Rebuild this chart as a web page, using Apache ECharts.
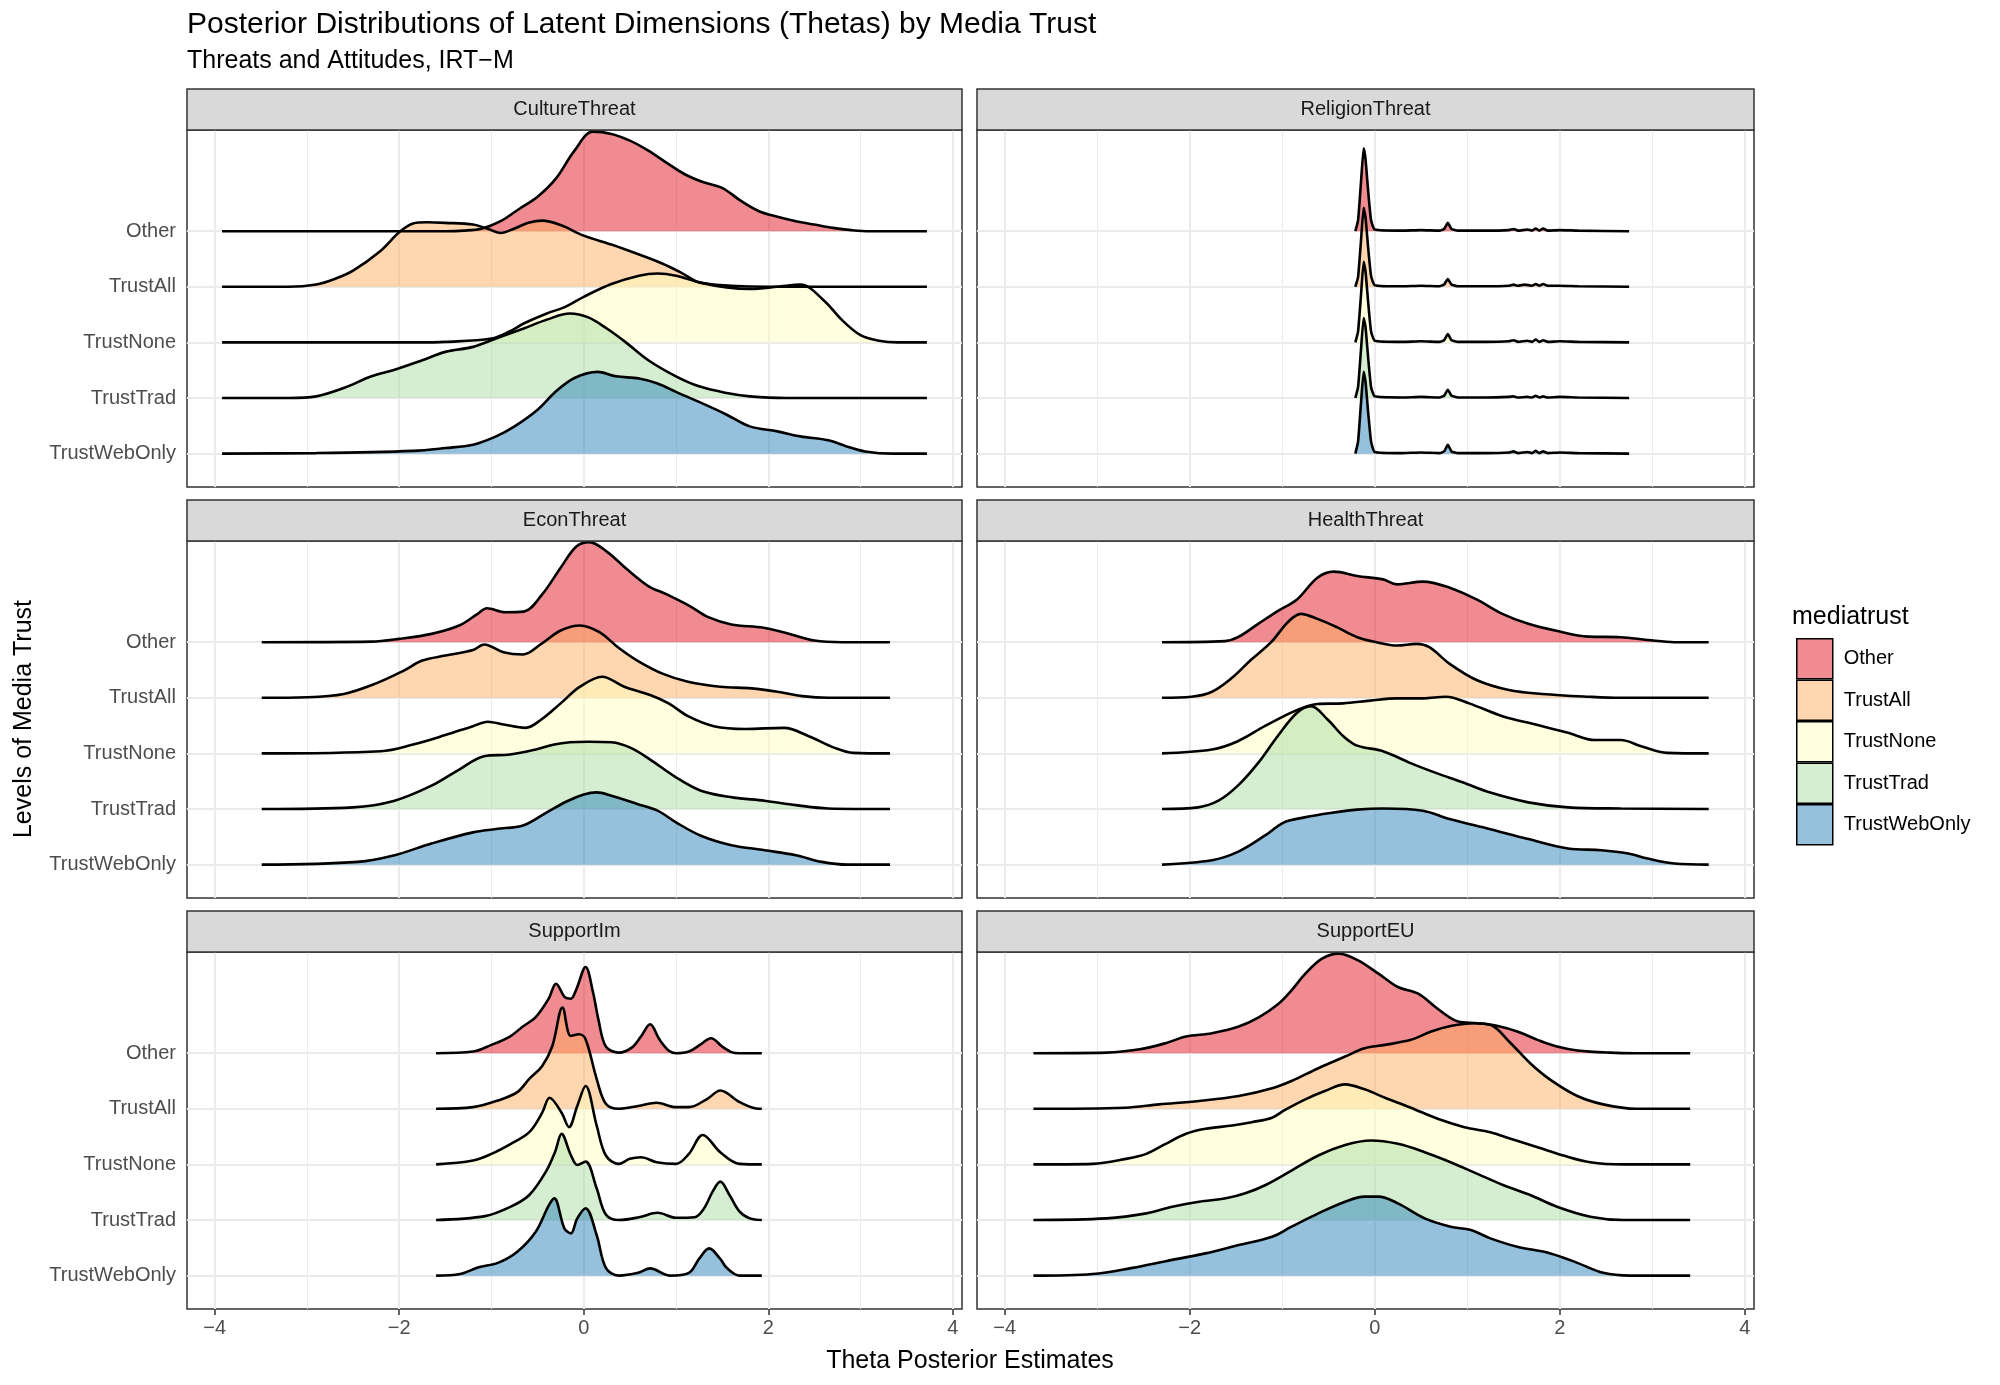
<!DOCTYPE html>
<html><head><meta charset="utf-8">
<script src="https://cdn.jsdelivr.net/npm/echarts@6/dist/echarts.min.js"></script>
<style>html,body{margin:0;padding:0;background:#fff}#chart{width:2000px;height:1385px}</style>
</head><body><div id="chart"></div>
<script>
// ---------- DATA ----------
const groups = ['Other', 'TrustAll', 'TrustNone', 'TrustTrad', 'TrustWebOnly'];
const facetNames = ['CultureThreat', 'ReligionThreat', 'EconThreat', 'HealthThreat', 'SupportIm', 'SupportEU'];
const xTicks = [-4, -2, 0, 2, 4];
const xMinorTicks = [-3, -1, 1, 3];
const yTickValues = [1, 2, 3, 4, 5];

// each ridge: [theta, ridge height in row units], groups in order Other..TrustWebOnly
const cultureThreat = [
  [[-3.92,0],[-1.5,0],[-1.3,0.01],[-1.1,0.05],[-0.9,0.18],[-0.7,0.40],[-0.5,0.62],[-0.3,0.95],[-0.1,1.45],[0.1,1.79],[0.3,1.75],[0.5,1.63],[0.7,1.45],[0.9,1.23],[1.1,1.02],[1.3,0.88],[1.5,0.78],[1.7,0.55],[1.9,0.36],[2.1,0.26],[2.3,0.18],[2.5,0.12],[2.7,0.06],[2.9,0.02],[3.1,0],[3.72,0]],
  [[-3.92,0],[-3.2,0],[-2.9,0.04],[-2.7,0.14],[-2.5,0.29],[-2.2,0.65],[-2.0,0.98],[-1.85,1.14],[-1.7,1.16],[-1.5,1.15],[-1.2,1.12],[-1.05,1.05],[-0.9,0.97],[-0.75,1.05],[-0.6,1.15],[-0.45,1.19],[-0.25,1.11],[0.0,0.92],[0.3,0.76],[0.6,0.58],[0.85,0.42],[1.05,0.26],[1.25,0.08],[1.6,0.02],[2.0,0],[3.72,0]],
  [[-3.92,0],[-1.8,0],[-1.5,0.01],[-1.0,0.07],[-0.8,0.2],[-0.65,0.34],[-0.4,0.52],[-0.2,0.64],[0.0,0.82],[0.3,1.05],[0.6,1.20],[0.8,1.24],[1.0,1.20],[1.25,1.08],[1.55,0.99],[1.8,0.96],[2.1,1.00],[2.35,1.04],[2.6,0.76],[2.8,0.40],[3.0,0.13],[3.2,0.03],[3.4,0],[3.72,0]],
  [[-3.92,0],[-3.2,0],[-2.9,0.03],[-2.6,0.18],[-2.3,0.39],[-2.05,0.51],[-1.75,0.68],[-1.5,0.83],[-1.2,0.92],[-0.95,1.07],[-0.65,1.25],[-0.4,1.41],[-0.15,1.52],[0.05,1.45],[0.25,1.25],[0.45,1.01],[0.7,0.68],[1.0,0.39],[1.25,0.21],[1.55,0.09],[1.8,0.03],[2.2,0],[3.72,0]],
  [[-3.92,0],[-2.9,0.01],[-1.85,0.05],[-1.5,0.10],[-1.2,0.16],[-0.95,0.31],[-0.75,0.49],[-0.5,0.79],[-0.3,1.12],[-0.1,1.36],[0.15,1.47],[0.35,1.39],[0.6,1.35],[0.8,1.26],[1.0,1.11],[1.25,0.93],[1.55,0.70],[1.8,0.49],[2.1,0.40],[2.35,0.31],[2.65,0.24],[2.85,0.13],[3.05,0.04],[3.35,0],[3.72,0]]
];
const religionThreat = [
  [[-0.21,0],[-0.18,0.2],[-0.15,0.85],[-0.12,1.49],[-0.1,1.3],[-0.07,0.7],[-0.04,0.2],[0.0,0.03],[0.3,0.01],[0.5,0.02],[0.7,0.01],[0.75,0.04],[0.79,0.15],[0.83,0.04],[0.9,0.01],[1.2,0.01],[1.45,0.02],[1.5,0.04],[1.55,0.01],[1.65,0.03],[1.7,0.01],[1.74,0.05],[1.78,0.01],[1.82,0.05],[1.87,0.01],[2.0,0.02],[2.2,0.01],[2.75,0]],
  [[-0.21,0],[-0.18,0.18],[-0.15,0.8],[-0.12,1.42],[-0.1,1.25],[-0.07,0.68],[-0.04,0.2],[0.0,0.03],[0.3,0.01],[0.5,0.02],[0.7,0.01],[0.75,0.04],[0.79,0.14],[0.83,0.04],[0.9,0.01],[1.2,0.01],[1.45,0.02],[1.5,0.04],[1.55,0.02],[1.62,0.04],[1.7,0.02],[1.74,0.05],[1.78,0.02],[1.82,0.05],[1.87,0.02],[2.0,0.02],[2.2,0.01],[2.75,0]],
  [[-0.21,0],[-0.18,0.2],[-0.15,0.82],[-0.12,1.45],[-0.1,1.28],[-0.07,0.7],[-0.04,0.2],[0.0,0.03],[0.3,0.01],[0.5,0.02],[0.7,0.01],[0.75,0.04],[0.79,0.15],[0.83,0.04],[0.9,0.01],[1.2,0.01],[1.45,0.02],[1.5,0.04],[1.55,0.01],[1.65,0.03],[1.7,0.01],[1.74,0.05],[1.78,0.01],[1.82,0.04],[1.87,0.01],[2.0,0.02],[2.2,0.01],[2.75,0]],
  [[-0.21,0],[-0.18,0.2],[-0.15,0.84],[-0.12,1.44],[-0.1,1.28],[-0.07,0.7],[-0.04,0.2],[0.0,0.03],[0.3,0.01],[0.5,0.02],[0.7,0.01],[0.75,0.04],[0.79,0.15],[0.83,0.04],[0.9,0.01],[1.2,0.01],[1.45,0.02],[1.5,0.03],[1.55,0.01],[1.65,0.02],[1.7,0.01],[1.74,0.04],[1.78,0.01],[1.82,0.03],[1.87,0.01],[2.0,0.02],[2.2,0.01],[2.75,0]],
  [[-0.21,0],[-0.18,0.22],[-0.15,0.88],[-0.12,1.47],[-0.1,1.3],[-0.07,0.72],[-0.04,0.22],[0.0,0.03],[0.3,0.01],[0.5,0.02],[0.7,0.01],[0.75,0.04],[0.79,0.16],[0.83,0.04],[0.9,0.01],[1.2,0.01],[1.45,0.02],[1.5,0.04],[1.55,0.01],[1.65,0.03],[1.7,0.01],[1.74,0.05],[1.78,0.01],[1.82,0.04],[1.87,0.01],[2.0,0.02],[2.2,0.01],[2.75,0]]
];
const econThreat = [
  [[-3.49,0],[-2.3,0.01],[-2.0,0.06],[-1.65,0.15],[-1.35,0.30],[-1.15,0.51],[-1.05,0.61],[-0.85,0.54],[-0.65,0.55],[-0.45,0.86],[-0.25,1.34],[-0.08,1.72],[0.06,1.80],[0.25,1.63],[0.45,1.34],[0.7,1.01],[0.9,0.86],[1.15,0.65],[1.35,0.45],[1.6,0.32],[1.95,0.26],[2.25,0.14],[2.5,0.03],[2.8,0],[3.32,0]],
  [[-3.49,0],[-3.0,0.01],[-2.6,0.07],[-2.25,0.26],[-1.95,0.49],[-1.75,0.67],[-1.5,0.76],[-1.2,0.86],[-1.08,0.96],[-0.87,0.82],[-0.66,0.78],[-0.46,0.97],[-0.25,1.21],[-0.04,1.30],[0.17,1.18],[0.37,0.91],[0.58,0.67],[0.86,0.43],[1.13,0.29],[1.48,0.20],[1.82,0.17],[2.1,0.11],[2.37,0.03],[2.65,0],[3.32,0]],
  [[-3.49,0],[-2.2,0.04],[-1.85,0.16],[-1.5,0.33],[-1.2,0.49],[-1.04,0.57],[-0.87,0.52],[-0.63,0.46],[-0.46,0.61],[-0.25,0.90],[-0.04,1.20],[0.2,1.38],[0.44,1.20],[0.72,1.05],[0.92,0.90],[1.13,0.67],[1.41,0.49],[1.75,0.44],[2.17,0.46],[2.44,0.31],[2.72,0.10],[2.92,0.01],[3.32,0]],
  [[-3.49,0],[-2.5,0.03],[-2.05,0.15],[-1.65,0.42],[-1.35,0.71],[-1.08,0.95],[-0.8,0.98],[-0.52,1.07],[-0.32,1.16],[-0.15,1.20],[0.05,1.21],[0.3,1.20],[0.51,1.10],[0.72,0.89],[1.0,0.57],[1.27,0.33],[1.61,0.21],[1.96,0.15],[2.3,0.07],[2.65,0.01],[3.32,0]],
  [[-3.49,0],[-2.45,0.05],[-2.05,0.17],[-1.65,0.38],[-1.2,0.58],[-0.95,0.64],[-0.65,0.71],[-0.4,0.94],[-0.18,1.14],[0.0,1.26],[0.14,1.30],[0.3,1.24],[0.58,1.09],[0.8,0.97],[1.0,0.76],[1.27,0.52],[1.6,0.35],[1.96,0.26],[2.3,0.17],[2.58,0.05],[2.86,0],[3.32,0]]
];
const healthThreat = [
  [[-2.3,0],[-1.62,0.02],[-1.48,0.09],[-1.26,0.33],[-1.05,0.56],[-0.84,0.77],[-0.62,1.16],[-0.44,1.27],[-0.19,1.19],[0.09,1.13],[0.24,1.04],[0.52,1.09],[0.81,0.98],[1.1,0.77],[1.38,0.51],[1.66,0.33],[1.95,0.21],[2.31,0.10],[2.66,0.09],[2.95,0.04],[3.24,0],[3.61,0]],
  [[-2.3,0],[-1.98,0.02],[-1.76,0.11],[-1.55,0.35],[-1.34,0.68],[-1.12,1.0],[-0.94,1.36],[-0.8,1.51],[-0.62,1.42],[-0.41,1.27],[-0.19,1.09],[0.02,1.0],[0.24,0.94],[0.45,0.97],[0.59,0.91],[0.81,0.61],[1.1,0.32],[1.45,0.14],[1.81,0.07],[2.31,0.02],[2.66,0],[3.61,0]],
  [[-2.3,0],[-1.76,0.07],[-1.48,0.22],[-1.19,0.49],[-0.91,0.73],[-0.73,0.85],[-0.62,0.89],[-0.34,0.90],[-0.05,0.95],[0.24,0.99],[0.52,0.99],[0.77,1.02],[1.02,0.90],[1.38,0.67],[1.74,0.52],[2.09,0.37],[2.38,0.24],[2.66,0.24],[2.88,0.13],[3.16,0.01],[3.61,0]],
  [[-2.3,0],[-1.91,0.03],[-1.69,0.15],[-1.48,0.42],[-1.26,0.83],[-1.05,1.31],[-0.84,1.73],[-0.69,1.85],[-0.51,1.61],[-0.34,1.31],[-0.19,1.14],[0.09,1.04],[0.38,0.83],[0.66,0.65],[0.95,0.48],[1.24,0.30],[1.66,0.12],[2.09,0.03],[2.66,0.01],[3.61,0]],
  [[-2.3,0],[-1.76,0.08],[-1.48,0.23],[-1.19,0.52],[-0.98,0.76],[-0.76,0.85],[-0.48,0.93],[-0.19,0.99],[0.09,1.01],[0.52,0.97],[0.81,0.82],[1.24,0.64],[1.66,0.46],[2.09,0.29],[2.45,0.26],[2.74,0.20],[2.95,0.11],[3.24,0.02],[3.61,0]]
];
const supportIm = [
  [[-1.6,0],[-1.2,0.03],[-1.0,0.15],[-0.8,0.30],[-0.66,0.48],[-0.52,0.65],[-0.38,0.98],[-0.3,1.25],[-0.2,1.0],[-0.14,0.98],[-0.08,1.15],[0.02,1.55],[0.1,1.1],[0.16,0.6],[0.24,0.12],[0.38,0.01],[0.52,0.1],[0.62,0.3],[0.72,0.52],[0.82,0.25],[0.92,0.05],[1.0,0],[1.14,0.03],[1.26,0.15],[1.38,0.27],[1.5,0.12],[1.6,0.02],[1.69,0],[1.93,0]],
  [[-1.6,0],[-1.2,0.03],[-0.93,0.15],[-0.72,0.30],[-0.59,0.54],[-0.45,0.77],[-0.34,1.13],[-0.23,1.82],[-0.14,1.31],[-0.05,1.34],[0.02,1.25],[0.14,0.54],[0.24,0.09],[0.38,0],[0.59,0.05],[0.79,0.11],[1.0,0.03],[1.14,0.03],[1.34,0.18],[1.48,0.33],[1.69,0.12],[1.9,0],[1.93,0]],
  [[-1.6,0],[-1.2,0.07],[-1.0,0.19],[-0.79,0.37],[-0.59,0.58],[-0.45,0.93],[-0.37,1.20],[-0.24,0.93],[-0.16,0.67],[-0.07,1.05],[0.02,1.41],[0.14,0.70],[0.24,0.16],[0.38,0.01],[0.5,0.1],[0.62,0.13],[0.79,0.04],[1.0,0.01],[1.14,0.19],[1.29,0.53],[1.48,0.22],[1.69,0.01],[1.93,0]],
  [[-1.6,0],[-1.07,0.07],[-0.79,0.24],[-0.59,0.45],[-0.41,0.87],[-0.31,1.23],[-0.24,1.55],[-0.14,1.17],[-0.07,0.99],[0.02,1.05],[0.14,0.57],[0.24,0.10],[0.38,0],[0.6,0.05],[0.8,0.13],[1.0,0.04],[1.2,0.05],[1.3,0.2],[1.4,0.52],[1.48,0.69],[1.58,0.45],[1.69,0.15],[1.8,0.03],[1.93,0]],
  [[-1.6,0],[-1.34,0.03],[-1.14,0.15],[-0.93,0.23],[-0.72,0.43],[-0.52,0.79],[-0.38,1.26],[-0.32,1.39],[-0.21,0.85],[-0.14,0.76],[-0.07,1.03],[0.02,1.21],[0.14,0.73],[0.24,0.14],[0.38,0],[0.59,0.05],[0.72,0.13],[0.93,0],[1.14,0.05],[1.25,0.3],[1.36,0.49],[1.48,0.3],[1.55,0.14],[1.69,0],[1.93,0]]
];
const supportEU = [
  [[-3.69,0],[-2.9,0.01],[-2.54,0.07],[-2.26,0.18],[-2.04,0.30],[-1.76,0.36],[-1.47,0.48],[-1.25,0.65],[-1.04,0.89],[-0.9,1.13],[-0.75,1.43],[-0.57,1.70],[-0.39,1.79],[-0.18,1.67],[0.04,1.43],[0.25,1.19],[0.47,1.07],[0.68,0.80],[0.9,0.57],[1.11,0.54],[1.33,0.49],[1.54,0.39],[1.76,0.24],[1.97,0.12],[2.19,0.05],[2.54,0.01],[2.83,0],[3.41,0]],
  [[-3.69,0],[-2.7,0.02],[-2.33,0.08],[-1.9,0.14],[-1.47,0.23],[-1.11,0.37],[-0.9,0.50],[-0.61,0.73],[-0.32,0.94],[-0.11,1.09],[0.11,1.15],[0.39,1.24],[0.61,1.39],[0.82,1.49],[1.08,1.54],[1.25,1.51],[1.47,1.18],[1.68,0.82],[1.9,0.52],[2.19,0.23],[2.47,0.08],[2.83,0],[3.41,0]],
  [[-3.69,0],[-3.05,0.01],[-2.69,0.10],[-2.47,0.19],[-2.26,0.37],[-2.04,0.55],[-1.83,0.64],[-1.54,0.70],[-1.33,0.76],[-1.11,0.84],[-0.97,0.98],[-0.75,1.17],[-0.54,1.32],[-0.32,1.44],[-0.11,1.35],[0.11,1.20],[0.39,1.02],[0.68,0.82],[0.97,0.67],[1.25,0.58],[1.47,0.46],[1.76,0.31],[2.04,0.16],[2.33,0.04],[2.69,0],[3.41,0]],
  [[-3.69,0],[-2.9,0.03],[-2.47,0.12],[-2.19,0.24],[-1.9,0.33],[-1.61,0.39],[-1.4,0.48],[-1.18,0.63],[-0.9,0.89],[-0.61,1.16],[-0.32,1.35],[-0.04,1.43],[0.25,1.37],[0.54,1.22],[0.82,1.04],[1.11,0.83],[1.4,0.62],[1.68,0.45],[1.97,0.24],[2.33,0.06],[2.69,0],[3.41,0]],
  [[-3.69,0],[-3.05,0.03],[-2.62,0.14],[-2.26,0.26],[-1.83,0.40],[-1.47,0.55],[-1.11,0.70],[-0.9,0.88],[-0.61,1.12],[-0.32,1.33],[-0.11,1.42],[0.04,1.42],[0.25,1.30],[0.54,1.03],[0.82,0.88],[1.04,0.82],[1.25,0.67],[1.54,0.52],[1.9,0.40],[2.19,0.23],[2.47,0.05],[2.76,0],[3.41,0]]
];
const facetData = [cultureThreat, religionThreat, econThreat, healthThreat, supportIm, supportEU];

// ---------- STYLE / LAYOUT ----------
const FONT = '"Liberation Sans", Arial, Helvetica, sans-serif';
const fillColors = ['rgba(225,25,35,0.5)', 'rgba(253,174,97,0.5)', 'rgba(255,255,191,0.5)', 'rgba(171,221,164,0.5)', 'rgba(43,131,186,0.5)'];
const colLeft = [187, 977], colWidth = [775, 777];
const rowTop = [130, 541, 952], panelH = 357, stripH = 41;
const X_MIN = -4.3, X_MAX = 4.1, Y_MIN = 0.4, Y_MAX = 6.82;
const fmtNum = v => (v < 0 ? '\u2212' + Math.abs(v) : String(v));

const grids = [], xAxes = [], yAxes = [], series = [], graphics = [];

facetNames.forEach((fname, fi) => {
  const col = fi % 2, row = Math.floor(fi / 2);
  grids.push({ left: colLeft[col], top: rowTop[row], width: colWidth[col], height: panelH,
    show: true, backgroundColor: '#fff', borderColor: '#333', borderWidth: 1.5, containLabel: false });
  const bottom = row === 2, leftCol = col === 0;
  xAxes.push({ type: 'value', gridIndex: fi, min: X_MIN, max: X_MAX,
    splitLine: { show: false }, axisLine: { show: false },
    axisTick: { show: bottom, customValues: xTicks, length: 6, lineStyle: { color: '#333', width: 1.5 } },
    axisLabel: { show: bottom, customValues: xTicks, margin: 9, fontSize: 20, color: '#4D4D4D', fontFamily: FONT, formatter: fmtNum } });
  yAxes.push({ type: 'value', gridIndex: fi, min: Y_MIN, max: Y_MAX,
    splitLine: { show: false }, axisLine: { show: false },
    axisTick: { show: leftCol, customValues: yTickValues, length: 6, lineStyle: { color: '#333', width: 1.5 } },
    axisLabel: { show: leftCol, customValues: yTickValues, margin: 11, fontSize: 20, color: '#4D4D4D', fontFamily: FONT,
      formatter: v => groups[groups.length - Math.round(v)] } });

  // background grid lines
  const mlData = [];
  xTicks.forEach(v => mlData.push({ xAxis: v, lineStyle: { width: 2 } }));
  xMinorTicks.forEach(v => mlData.push({ xAxis: v, lineStyle: { width: 1 } }));
  yTickValues.forEach(v => mlData.push({ yAxis: v, lineStyle: { width: 2 } }));
  series.push({ type: 'line', name: 'grid' + fi, xAxisIndex: fi, yAxisIndex: fi, data: [], silent: true, z: 1,
    markLine: { silent: true, z: 1, symbol: ['none', 'none'], label: { show: false }, animation: false,
      lineStyle: { color: '#EBEBEB', type: 'solid' }, emphasis: { disabled: true }, data: mlData } });

  // ridges, drawn top row first
  facetData[fi].forEach((pts, gi) => {
    const base = groups.length - gi;
    series.push({ name: groups[gi], type: 'line', xAxisIndex: fi, yAxisIndex: fi,
      data: pts.map(p => [p[0], base + p[1]]),
      smooth: fi === 1 ? 0.15 : 0.35, showSymbol: false, symbol: 'none', silent: true, z: 3,
      lineStyle: { color: '#000', width: 2.6 },
      itemStyle: { color: fillColors[gi] },
      areaStyle: { color: fillColors[gi], opacity: 1, origin: base } });
  });

  // strip
  graphics.push({ type: 'rect', shape: { x: colLeft[col], y: rowTop[row] - stripH, width: colWidth[col], height: stripH },
    style: { fill: '#D9D9D9', stroke: '#333', lineWidth: 1.5 }, z: 10 });
  graphics.push({ type: 'text', x: colLeft[col] + colWidth[col] / 2, y: rowTop[row] - stripH / 2, z: 11,
    style: { text: fname, font: '20px ' + FONT, fill: '#1A1A1A', align: 'center', verticalAlign: 'middle', textAlign: 'center', textVerticalAlign: 'middle' } });
});

const textEl = (text, x, y, size, opts) => Object.assign({ type: 'text', x, y, z: 11,
  style: { text, font: size + 'px ' + FONT, fill: '#000', align: 'left', verticalAlign: 'middle', textAlign: 'left', textVerticalAlign: 'middle' } }, opts || {});

graphics.push(textEl('Posterior Distributions of Latent Dimensions (Thetas) by Media Trust', 187, 25, 30));
graphics.push(textEl('Threats and Attitudes, IRT\u2212M', 187, 61, 25));
graphics.push(textEl('mediatrust', 1792, 617, 25));
const xt = textEl('Theta Posterior Estimates', 970, 1361, 25);
xt.style.align = 'center'; xt.style.textAlign = 'center';
graphics.push(xt);
const yt = textEl('Levels of Media Trust', 24, 719, 25, { rotation: Math.PI / 2 });
yt.style.align = 'center'; yt.style.textAlign = 'center';
graphics.push(yt);

const chart = echarts.init(document.getElementById('chart'), null, { renderer: 'canvas' });
chart.setOption({
  animation: false,
  backgroundColor: '#fff',
  grid: grids,
  xAxis: xAxes,
  yAxis: yAxes,
  series: series,
  legend: { orient: 'vertical', left: 1796, top: 638, itemWidth: 36, itemHeight: 40, itemGap: 0, icon: 'rect',
    selectedMode: false, padding: 0,
    data: groups.map((g, i) => ({ name: g, itemStyle: { color: fillColors[i], borderColor: '#000', borderWidth: 1.5 } })),
    textStyle: { fontSize: 20, color: '#000', fontFamily: FONT, padding: [0, 0, 0, 6] } },
  graphic: { elements: graphics }
});
</script>
</body></html>
